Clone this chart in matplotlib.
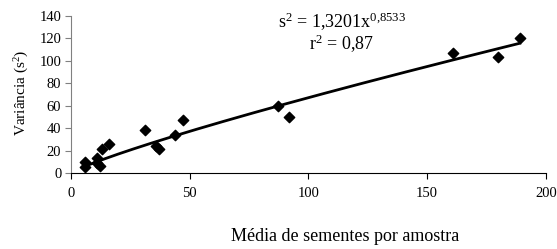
import numpy as np
import matplotlib.pyplot as plt

plt.rcParams['font.family'] = 'Liberation Serif'
plt.rcParams['mathtext.fontset'] = 'custom'
plt.rcParams['mathtext.rm'] = 'Liberation Serif'
plt.rcParams['mathtext.it'] = 'Liberation Serif'

media = [6, 6, 11, 11, 12, 13, 16, 31, 36, 37, 44, 47, 87, 92, 161, 180, 189]
variancia = [10, 5, 13, 9, 6, 21, 26, 38, 24, 21, 34, 47, 60, 50, 107, 103, 120]

# power trend line shown in the chart
a, b = 1.3201, 0.8533

fig = plt.figure(figsize=(5.57, 2.49), dpi=100)
ax = fig.add_axes([0.1275, 0.305, 0.8525, 0.631])

ax.scatter(media, variancia, marker='D', s=28, color='black', zorder=3)
xt = np.linspace(min(media), max(media), 200)
ax.plot(xt, a * xt ** b, color='black', linewidth=2)

ax.set_xlim(0, 200)
ax.set_ylim(0, 140)
ax.set_xticks([0, 50, 100, 150, 200])
ax.set_yticks(range(0, 141, 20))
ax.spines['top'].set_visible(False)
ax.spines['right'].set_visible(False)
ax.spines['left'].set_color('#808080')
ax.tick_params(axis='y', colors='#808080', labelcolor='black', labelsize=10.5, length=4, pad=3)
ax.tick_params(axis='x', labelsize=10.5, length=4, pad=6)

# axis titles placed by hand, the x title sits right of centre in the original
fig.text(345 / 557, 1 - 236 / 249, 'Média de sementes por amostra',
         fontsize=13, ha='center', va='center')
fig.text(22 / 557, 1 - 93 / 249, 'Variância (s$^2$)', fontsize=11,
         rotation=90, ha='center', va='center')

ax.text(114, 135, 's$^2$ = 1,3201x$^{0{,}8533}$', fontsize=13, ha='center', va='center')
ax.text(114, 115, 'r$^2$ = 0,87', fontsize=13, ha='center', va='center')

fig.savefig('out.png', dpi=100)
